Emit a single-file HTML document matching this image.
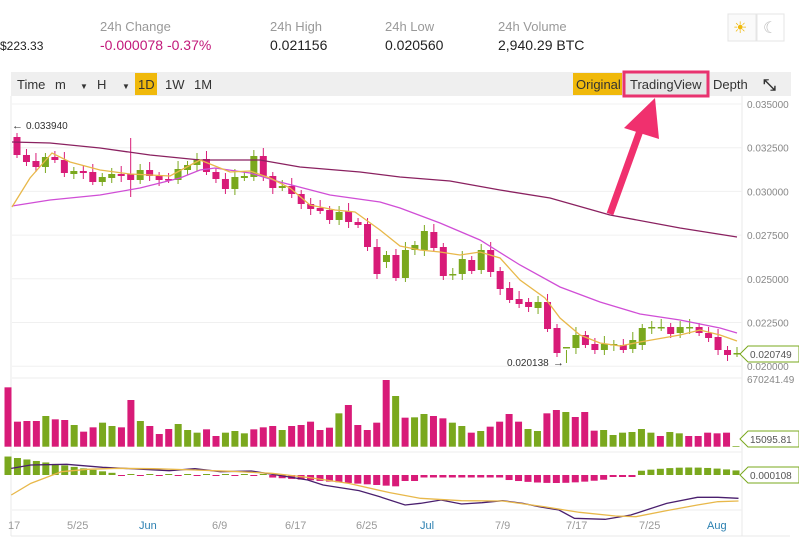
<!DOCTYPE html>
<html><head><meta charset="utf-8"><style>
body{margin:0;width:799px;height:548px;background:#fff;overflow:hidden;font-family:"Liberation Sans",sans-serif;}
svg{position:absolute;left:0;top:0}
</style></head><body>
<svg id="s" width="799" height="548" xmlns="http://www.w3.org/2000/svg" font-family="Liberation Sans, sans-serif">
<g font-size="13" fill="#999">
<text x="100" y="31">24h Change</text><text x="270" y="31">24h High</text><text x="385" y="31">24h Low</text><text x="498" y="31">24h Volume</text>
</g>
<g font-size="14" fill="#222">
<text x="0" y="50" font-size="12">$223.33</text>
<text x="100" y="50" fill="#c2187a">-0.000078  -0.37%</text>
<text x="270" y="50">0.021156</text><text x="385" y="50">0.020560</text><text x="498" y="50">2,940.29 BTC</text>
</g>
<rect x="728" y="14" width="28" height="27" fill="#fafafa" stroke="#e5e5e5"/><text x="733" y="33" font-size="16" fill="#f0b90b">☀</text>
<rect x="757" y="14" width="27" height="27" fill="#fff" stroke="#e5e5e5"/><text x="763" y="33" font-size="16" fill="#bbb">☾</text>
<rect x="11" y="72" width="780" height="24" fill="#efefef"/>
<g font-size="13" fill="#333">
<text x="17" y="89">Time</text><text x="55" y="89">m</text><text x="80" y="89" font-size="8">▼</text><text x="97" y="89">H</text><text x="122" y="89" font-size="8">▼</text>
<rect x="135" y="73" width="22" height="22" fill="#f0b90b"/><text x="138" y="89">1D</text><text x="165" y="89">1W</text><text x="194" y="89">1M</text>
<rect x="573" y="73" width="49" height="22" fill="#f0b90b"/><text x="576" y="89">Original</text>
<rect x="624" y="72" width="84" height="24" fill="#e6e6e6" stroke="#e8336f" stroke-width="3"/><text x="630" y="89">TradingView</text>
<text x="713" y="89">Depth</text>
<text x="763" y="90" font-size="16" font-weight="bold">⤡</text>
</g>
<line x1="742" y1="96" x2="742" y2="536" stroke="#e8e8e8"/>
<line x1="11" y1="96" x2="11" y2="536" stroke="#e8e8e8"/>
<line x1="11" y1="536" x2="790" y2="536" stroke="#e8e8e8"/>
<g id="g"></g>
<line x1="610" y1="214" x2="641" y2="128" stroke="#f0306e" stroke-width="7"/>
<polygon points="655,98 624,128 659,139" fill="#f0306e"/>
</svg>
<script>
var g=document.getElementById('g'),h='';
var P='#d81b78',G='#7aa81e';
var lv=['0.035000','0.032500','0.030000','0.027500','0.025000','0.022500','0.020000'];
for(var i=0;i<7;i++){var y=104+i*43.7;h+='<line x1="12" y1="'+y+'" x2="742" y2="'+y+'" stroke="#f0f0f0"/>';h+='<text x="747" y="'+(y+4)+'" font-size="10" fill="#888">'+lv[i]+'</text>';}
h+='<line x1="12" y1="378" x2="742" y2="378" stroke="#eee"/><line x1="12" y1="452" x2="742" y2="452" stroke="#eee"/><line x1="12" y1="510" x2="742" y2="510" stroke="#eee"/>';
var C=[[137,155,'p'],[155,162,'p'],[161,167,'p'],[157,167,'g'],[157,160,'p'],[160,173,'p'],[171,174,'g'],[171,173,'p'],[172,182,'p'],[177,182,'g'],[174,178,'g'],[174,176,'p'],[174,180,'p'],[170,180,'g'],[170,176,'p'],[176,180,'p'],[179,180,'p'],[169,180,'g'],[165,170,'g'],[159,165,'g'],[159,172,'p'],[172,179,'p'],[179,189,'p'],[177,189,'g'],[176,178,'g'],[156,177,'g'],[156,176,'p'],[176,188,'p'],[186,188,'g'],[186,194,'p'],[194,204,'p'],[204,209,'p'],[208,211,'p'],[210,220,'p'],[212,220,'g'],[211,222,'p'],[222,225,'p'],[224,247,'p'],[247,274,'p'],[255,262,'g'],[255,278,'p'],[250,278,'g'],[245,250,'g'],[231,250,'g'],[232,248,'p'],[247,276,'p'],[274,275,'g'],[259,274,'g'],[260,271,'p'],[250,270,'g'],[250,272,'p'],[271,289,'p'],[288,300,'p'],[299,304,'p'],[302,307,'p'],[302,308,'g'],[302,329,'p'],[328,353,'p'],[347,348,'g'],[335,348,'g'],[335,345,'p'],[344,350,'p'],[344,350,'g'],[344,345,'g'],[345,350,'p'],[340,349,'g'],[328,345,'g'],[327,328,'g'],[327,328,'g'],[327,334,'p'],[327,333,'g'],[327,328,'g'],[327,333,'p'],[333,338,'p'],[337,350,'p'],[350,355,'p'],[353,354,'g']];
var n=C.length,sp=720/(n-1);
for(i=0;i<n;i++){var x=17+i*sp,c=C[i],col=c[2]=='p'?P:G;var hi=c[0]-4-(i%3)*2,lo=c[1]+3+(i%4);if(i==12){hi=138;lo=197}if(i==58){hi=350;lo=363}
h+='<line x1="'+x+'" y1="'+hi+'" x2="'+x+'" y2="'+lo+'" stroke="'+col+'"/>';h+='<rect x="'+(x-3.5)+'" y="'+c[0]+'" width="7" height="'+Math.max(1.5,c[1]-c[0])+'" fill="'+col+'"/>';}
function pl(pts,col,w){return '<polyline fill="none" stroke="'+col+'" stroke-width="'+(w||1.3)+'" points="'+pts.map(function(p){return p.join(',')}).join(' ')+'"/>';}
h+=pl([[12,142],[50,143],[100,148],[150,155],[200,160],[260,160],[300,167],[360,172],[400,177],[450,181],[500,190],[550,198],[610,215],[680,228],[737,237]],'#8a2160');
h+=pl([[12,206],[50,200],[100,195],[140,188],[180,178],[200,170],[215,168],[250,173],[280,182],[330,195],[380,202],[400,208],[440,223],[480,240],[520,265],[560,287],[600,302],[640,314],[680,320],[720,328],[737,333]],'#d04ed6');
h+=pl([[12,207],[30,178],[52,153],[70,162],[100,170],[130,174],[170,176],[200,160],[230,172],[250,171],[270,178],[290,188],[310,205],[335,210],[355,212],[380,230],[400,246],[420,250],[440,252],[460,255],[480,252],[500,258],[520,280],[545,298],[560,318],[580,335],[600,343],[620,346],[640,342],[680,335],[700,330],[720,335],[737,341]],'#e8b84a');
h+='<text x="26" y="129" font-size="10" fill="#333">0.033940</text><text x="12" y="129" font-size="11" fill="#333">←</text>';
h+='<text x="507" y="366" font-size="10" fill="#333">0.020138</text><text x="553" y="366" font-size="11" fill="#333">→</text>';
h+='<path d="M740 354 L748 346 L799 346 L799 362 L748 362 Z" fill="#fff" stroke="#7aa81e"/><text x="750" y="358" font-size="10" fill="#555">0.020749</text>';
var V=[[52,'p'],[155,'p'],[153,'p'],[153,'p'],[138,'g'],[148,'p'],[150,'p'],[165,'g'],[185,'p'],[172,'p'],[158,'g'],[168,'g'],[172,'p'],[90,'p'],[153,'g'],[168,'p'],[192,'p'],[177,'p'],[162,'g'],[180,'g'],[188,'g'],[178,'p'],[198,'p'],[188,'g'],[183,'g'],[190,'g'],[178,'p'],[172,'p'],[168,'p'],[180,'g'],[168,'p'],[165,'p'],[155,'p'],[180,'p'],[173,'p'],[130,'g'],[105,'p'],[165,'p'],[180,'p'],[158,'p'],[30,'p'],[78,'g'],[143,'p'],[142,'g'],[132,'g'],[138,'p'],[145,'p'],[158,'g'],[168,'g'],[188,'p'],[183,'g'],[170,'p'],[155,'p'],[132,'p'],[155,'p'],[177,'g'],[183,'g'],[130,'p'],[120,'p'],[126,'g'],[141,'p'],[126,'p'],[182,'p'],[180,'g'],[195,'g'],[188,'g'],[186,'g'],[177,'g'],[188,'g'],[198,'p'],[186,'g'],[190,'g'],[198,'p'],[198,'p'],[188,'p'],[190,'p'],[188,'p'],[228,'g']];
var m=V.length,vs=(736-8)/(m-1);
for(i=0;i<m;i++){var x=8+i*vs,t=V[i][0]/3+370;h+='<rect x="'+(x-3.5)+'" y="'+t+'" width="7" height="'+(446.7-t)+'" fill="'+(V[i][1]=='p'?P:G)+'"/>';}
h+='<text x="747" y="383" font-size="10" fill="#888">670241.49</text>';
h+='<path d="M740 439 L748 431 L799 431 L799 447 L748 447 Z" fill="#fff" stroke="#7aa81e"/><text x="750" y="443" font-size="10" fill="#555">15095.81</text>';
var Z=475;
for(i=0;i<m;i++){var x=8+i*vs,v;
if(x<118)v=18*(1-(x-11)/115);else if(x<265)v=(i%2?1:-1);else if(x<405)v=-(2+(x-265)/140*10);else if(x<420)v=-6;else if(x<500)v=-2.5;else if(x<610)v=-(4+4*Math.sin((x-500)/110*Math.PI));else if(x<636)v=-2;else v=6*Math.sin((x-620)/140*Math.PI)+1.5;
if(Math.abs(v)<1)v=v<0?-1.2:1.2;
h+='<rect x="'+(x-3.5)+'" y="'+(v>0?Z-v:Z)+'" width="7" height="'+Math.abs(v)+'" fill="'+(v>0?G:P)+'"/>';}
var S=1.95;
function cv(a){return a.map(function(p){return [(p[0]/S).toFixed(1),p[1]/3+370]});}
h+=pl(cv([[22,295],[60,285],[130,283],[200,292],[280,298],[330,302],[380,296],[430,305],[490,303],[540,315],[600,330],[630,345],[700,362],[740,380],[790,405],[820,400],[860,390],[900,402],[940,398],[980,392],[1020,400],[1050,410],[1090,420],[1120,445],[1180,448],[1230,435],[1300,400],[1360,382],[1400,382],[1440,385]]),'#4a1f6e');
h+=pl(cv([[22,375],[60,340],[120,305],[170,298],[230,295],[300,296],[380,300],[450,304],[530,310],[600,322],[680,340],[760,368],[820,385],[900,392],[980,393],[1060,410],[1130,427],[1200,438],[1240,440],[1300,422],[1360,405],[1400,395],[1440,393]]),'#e8b84a');
h+='<path d="M740 475 L748 467 L799 467 L799 483 L748 483 Z" fill="#fff" stroke="#7aa81e"/><text x="750" y="479" font-size="10" fill="#555">0.000108</text>';
var X=[[8,'17','#999'],[67,'5/25','#999'],[139,'Jun','#2a7fb0'],[212,'6/9','#999'],[285,'6/17','#999'],[356,'6/25','#999'],[420,'Jul','#2a7fb0'],[495,'7/9','#999'],[566,'7/17','#999'],[639,'7/25','#999'],[707,'Aug','#2a7fb0']];
X.forEach(function(a){h+='<text x="'+a[0]+'" y="529" font-size="11" fill="'+a[2]+'">'+a[1]+'</text>';});
g.innerHTML=h;
</script>
</body></html>
